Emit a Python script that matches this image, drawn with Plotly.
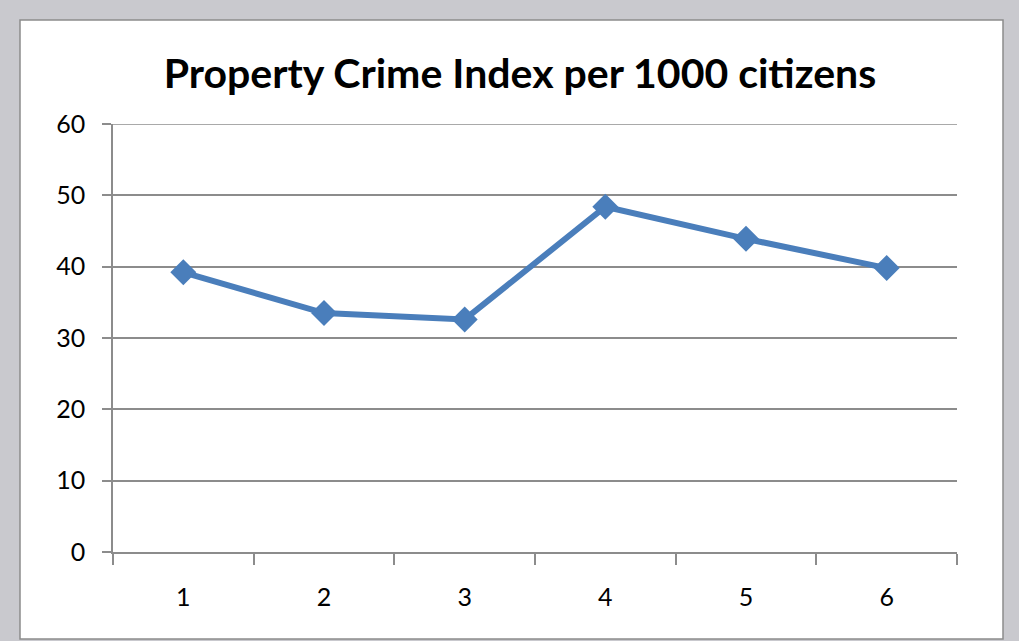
import plotly.graph_objects as go

categories = ["1", "2", "3", "4", "5", "6"]
values = [39.2, 33.5, 32.6, 48.4, 43.9, 39.8]
y_ticks = [0, 10, 20, 30, 40, 50, 60]
title_text = "Property Crime Index per 1000 citizens"

W, H = 1019, 641
FONT = "Lato, 'Open Sans', sans-serif"
GRID = "#8c8c8c"

fig = go.Figure()
fig.add_trace(go.Scatter(
    x=categories, y=values, mode="lines+markers",
    line=dict(color="#4a7ebb", width=6),
    marker=dict(symbol="diamond", size=20, color="#4a7ebb",
                line=dict(color="#4a7ebb", width=0)),
    showlegend=False,
))

# white chart area with grey frame
fig.add_shape(type="rect", xref="paper", yref="paper",
              x0=(20 - 113) / (W - 113 - 62), x1=(1003 - 113) / (W - 113 - 62),
              y0=(552 - 639) / (552 - 124), y1=(552 - 20) / (552 - 124),
              fillcolor="white", line=dict(color=GRID, width=1.5),
              layer="below")
# top gridline (at the edge of the range)
fig.add_shape(type="line", xref="paper", yref="y", x0=0, x1=1,
              y0=y_ticks[-1], y1=y_ticks[-1],
              line=dict(color=GRID, width=1.5), layer="below")

fig.update_layout(
    width=W, height=H,
    paper_bgcolor="#c9c9ce",
    plot_bgcolor="white",
    margin=dict(l=113, r=62, t=124, b=89),
    title=dict(text="<b>" + title_text + "</b>", x=520 / W, xref="container",
               xanchor="center", y=1 - 74 / H, yanchor="middle",
               font=dict(family=FONT, size=41, color="black")),
    font=dict(family=FONT, size=25, color="black"),
    xaxis=dict(
        type="category", tickson="boundaries", ticks="outside", ticklen=11,
        tickwidth=1.5, tickcolor=GRID, showline=True, linecolor=GRID,
        linewidth=1.5, showgrid=False, zeroline=False,
        range=[-0.5, 5.5], ticklabelstandoff=22,
    ),
    yaxis=dict(
        range=[0, 60], tickvals=y_ticks, ticks="outside", ticklen=9,
        tickwidth=1.5, tickcolor=GRID, showline=True, linecolor=GRID,
        linewidth=1.5, showgrid=True, gridcolor=GRID, gridwidth=1.5,
        zeroline=False, ticklabelstandoff=12,
    ),
)

fig.write_html("out.html", config={"displayModeBar": False},
               post_script="document.body.style.margin='0px';document.body.style.overflow='hidden';")
